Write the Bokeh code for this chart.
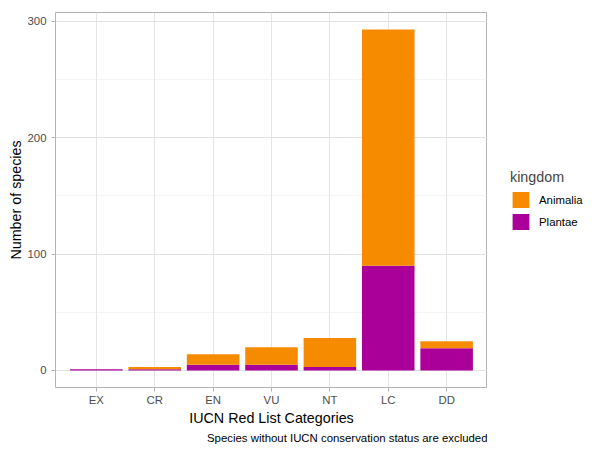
from bokeh.plotting import figure
from bokeh.layouts import row
from bokeh.models import (FactorRange, Range1d, SingleIntervalTicker, Legend,
                          LegendItem, Title, ColumnDataSource)
from bokeh.embed import file_html
from bokeh.resources import INLINE

categories = ["EX", "CR", "EN", "VU", "NT", "LC", "DD"]
plantae = [1, 1, 5, 5, 3, 90, 19]
animalia = [0, 2, 9, 15, 25, 203, 6]
kingdoms = ["Animalia", "Plantae"]
colors = {"Animalia": "#F68B00", "Plantae": "#AA0099"}

totals = [a + b for a, b in zip(plantae, animalia)]
ymax = max(totals)

FONT = "Liberation Sans"

p = figure(frame_width=432, frame_height=375, output_backend="svg",
           toolbar_location=None,
           x_range=FactorRange(factors=categories, range_padding=0.2,
                               range_padding_units="absolute"),
           y_range=Range1d(-0.05 * ymax, 1.05 * ymax),
           min_border_left=55, min_border_right=0,
           min_border_top=12, min_border_bottom=10)

source = ColumnDataSource(dict(cat=categories, Plantae=plantae,
                               Animalia=animalia))
rs = p.vbar_stack(["Plantae", "Animalia"], x="cat", width=0.9, source=source,
                  color=[colors["Plantae"], colors["Animalia"]], line_color=None)

p.background_fill_color = "white"
p.border_fill_color = "white"
p.outline_line_color = "#B3B3B3"
p.outline_line_width = 1

p.yaxis.ticker = SingleIntervalTicker(interval=100, num_minor_ticks=2)
p.ygrid.ticker = SingleIntervalTicker(interval=100, num_minor_ticks=2)
p.ygrid.grid_line_color = "#DEDEDE"
p.ygrid.grid_line_width = 0.8
p.ygrid.minor_grid_line_color = "#EBEBEB"
p.ygrid.minor_grid_line_width = 0.5
p.xgrid.grid_line_color = "#DEDEDE"
p.xgrid.grid_line_width = 0.8

for ax in (p.xaxis[0], p.yaxis[0]):
    ax.axis_line_color = None
    ax.major_tick_line_color = "#B3B3B3"
    ax.major_tick_out = 4
    ax.major_tick_in = 0
    ax.minor_tick_out = 0
    ax.minor_tick_in = 0
    ax.minor_tick_line_color = None
    ax.major_label_text_font = FONT
    ax.major_label_text_font_size = "11.4px"
    ax.major_label_text_color = "#4D4D4D"
    ax.axis_label_text_font = FONT
    ax.axis_label_text_font_size = "14.3px"
    ax.axis_label_text_font_style = "normal"
    ax.axis_label_text_color = "black"

p.xaxis.axis_label = "IUCN Red List Categories"
p.xaxis.major_label_standoff = 2
p.xaxis.axis_label_standoff = 1
p.yaxis.axis_label = "Number of species"
p.yaxis.major_label_standoff = 5
p.yaxis.axis_label_standoff = 0

caption = Title(text="Species without IUCN conservation status are excluded",
                align="right", text_font=FONT, text_font_size="11.4px",
                text_font_style="normal", text_color="black",
                standoff=2, offset=0)
p.add_layout(caption, "below")

# legend panel: a separate figure whose x range holds none of the
# categories, so its bar renderers only supply the legend keys
lp = figure(frame_width=96, frame_height=375, output_backend="svg",
            toolbar_location=None, x_range=FactorRange(factors=["-"]),
            y_range=Range1d(-0.05 * ymax, 1.05 * ymax), x_axis_location=None,
            y_axis_location=None, min_border_left=0, min_border_right=0,
            min_border_top=12, min_border_bottom=10)
lp.outline_line_color = None
lp.background_fill_color = "white"
lp.border_fill_color = "white"
lp.grid.visible = False
lrs = lp.vbar_stack(["Plantae", "Animalia"], x="cat", width=0.9, source=source,
                    color=[colors["Plantae"], colors["Animalia"]],
                    line_color=None)

legend = Legend(items=[LegendItem(label="Animalia", renderers=[lrs[1]]),
                       LegendItem(label="Plantae", renderers=[lrs[0]])],
                location="center_left", title="kingdom",
                title_text_font=FONT, title_text_font_size="14.3px",
                title_text_font_style="normal", title_standoff=5,
                label_text_font=FONT, label_text_font_size="11.4px",
                label_text_color="black",
                glyph_width=21, glyph_height=20, label_height=20,
                label_standoff=8, spacing=2, padding=0, margin=23,
                border_line_color=None, background_fill_alpha=0)
lp.add_layout(legend, "center")

layout = row(p, lp)
open("out.html", "w").write(file_html(layout, INLINE))
